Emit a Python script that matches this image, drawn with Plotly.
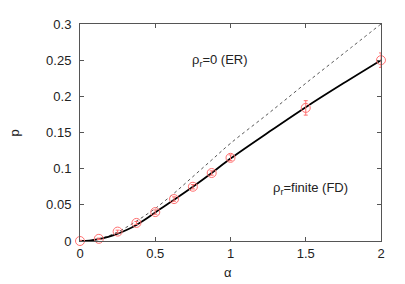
import plotly.graph_objects as go

# Simulation data (red circles with error bars)
alpha_pts = [0, 0.125, 0.25, 0.375, 0.5, 0.625, 0.75, 0.875, 1.0, 1.5, 2.0]
p_pts = [0.0, 0.003, 0.013, 0.025, 0.040, 0.058, 0.075, 0.094, 0.115, 0.184, 0.250]
p_err = [0.001, 0.001, 0.002, 0.002, 0.003, 0.003, 0.003, 0.003, 0.004, 0.010, 0.010]

# Theory curves
alpha_curve = [0, 0.0625, 0.125, 0.1875, 0.25, 0.3125, 0.375, 0.4375, 0.5, 0.625, 0.75,
               0.875, 1.0, 1.25, 1.5, 1.75, 2.0]
p_fd = [0.0, 0.0006, 0.0025, 0.0057, 0.0100, 0.0155, 0.0222, 0.0303, 0.0395, 0.0570,
        0.0750, 0.0940, 0.1140, 0.1500, 0.1850, 0.2180, 0.2500]
p_er = [0.0, 0.0007, 0.0030, 0.0068, 0.0125, 0.0195, 0.0275, 0.0360, 0.0450, 0.0660,
        0.0890, 0.1120, 0.1350, 0.1760, 0.2180, 0.2590, 0.3000]

x_ticks = [0, 0.5, 1, 1.5, 2]
y_ticks = [0, 0.05, 0.1, 0.15, 0.2, 0.25, 0.3]

font_family = "Liberation Sans, Arial, sans-serif"
txt = dict(family=font_family, size=13, color="#222")

fig = go.Figure()
fig.add_trace(go.Scatter(
    x=alpha_curve, y=p_er, mode="lines", line_shape="spline",
    line=dict(color="#555555", width=1, dash="dot"), showlegend=False))
fig.add_trace(go.Scatter(
    x=alpha_curve, y=p_fd, mode="lines", line_shape="spline",
    line=dict(color="black", width=1.8), showlegend=False))
fig.add_trace(go.Scatter(
    x=alpha_pts, y=p_pts, mode="markers",
    marker=dict(symbol="circle-open", size=9, color="#ff7070", line=dict(width=1)),
    error_y=dict(type="data", array=p_err, visible=True, color="#ff7070", thickness=1, width=2),
    showlegend=False, cliponaxis=False))

axis_common = dict(showline=True, linecolor="#555555", linewidth=1, mirror="ticks",
                   ticks="inside", ticklen=4, tickcolor="#555555", showgrid=False,
                   zeroline=False, tickfont=txt)

fig.update_xaxes(range=[0, 2], tickvals=x_ticks, ticktext=[f"{v:g}" for v in x_ticks], **axis_common)
fig.update_yaxes(range=[0, 0.3], tickvals=y_ticks, ticktext=[f"{v:g}" for v in y_ticks],
                 ticklabelstandoff=5, **axis_common)

# page body has an 8px margin; compensate
OFF = 8
W, H = 405 - OFF, 284 - OFF
L, R, T, B = 80 - OFF, 24, 17 - OFF, 43
pw, ph = W - L - R, H - T - B


def px2paper(x, y):
    return (x - OFF - L) / pw, (H + OFF - B - y) / ph


fig.add_annotation(x=0.93, y=0.25, xref="x", yref="y", text="ρ<sub>r</sub>=0 (ER)",
                   showarrow=False, font=txt)
fig.add_annotation(x=1.53, y=0.0725, xref="x", yref="y", text="ρ<sub>r</sub>=finite (FD)",
                   showarrow=False, font=txt)
px, py = px2paper(14, 130)
fig.add_annotation(x=px, y=py, xref="paper", yref="paper", text="p", showarrow=False,
                   xanchor="center", yanchor="middle", textangle=-90, font=txt)
px, py = px2paper(228, 274)
fig.add_annotation(x=px, y=py, xref="paper", yref="paper", text="α", showarrow=False,
                   xanchor="center", yanchor="middle", font=txt)

fig.update_layout(width=W, height=H, margin=dict(l=L, r=R, t=T, b=B),
                  plot_bgcolor="white", paper_bgcolor="white")
fig.write_html("out.html")
